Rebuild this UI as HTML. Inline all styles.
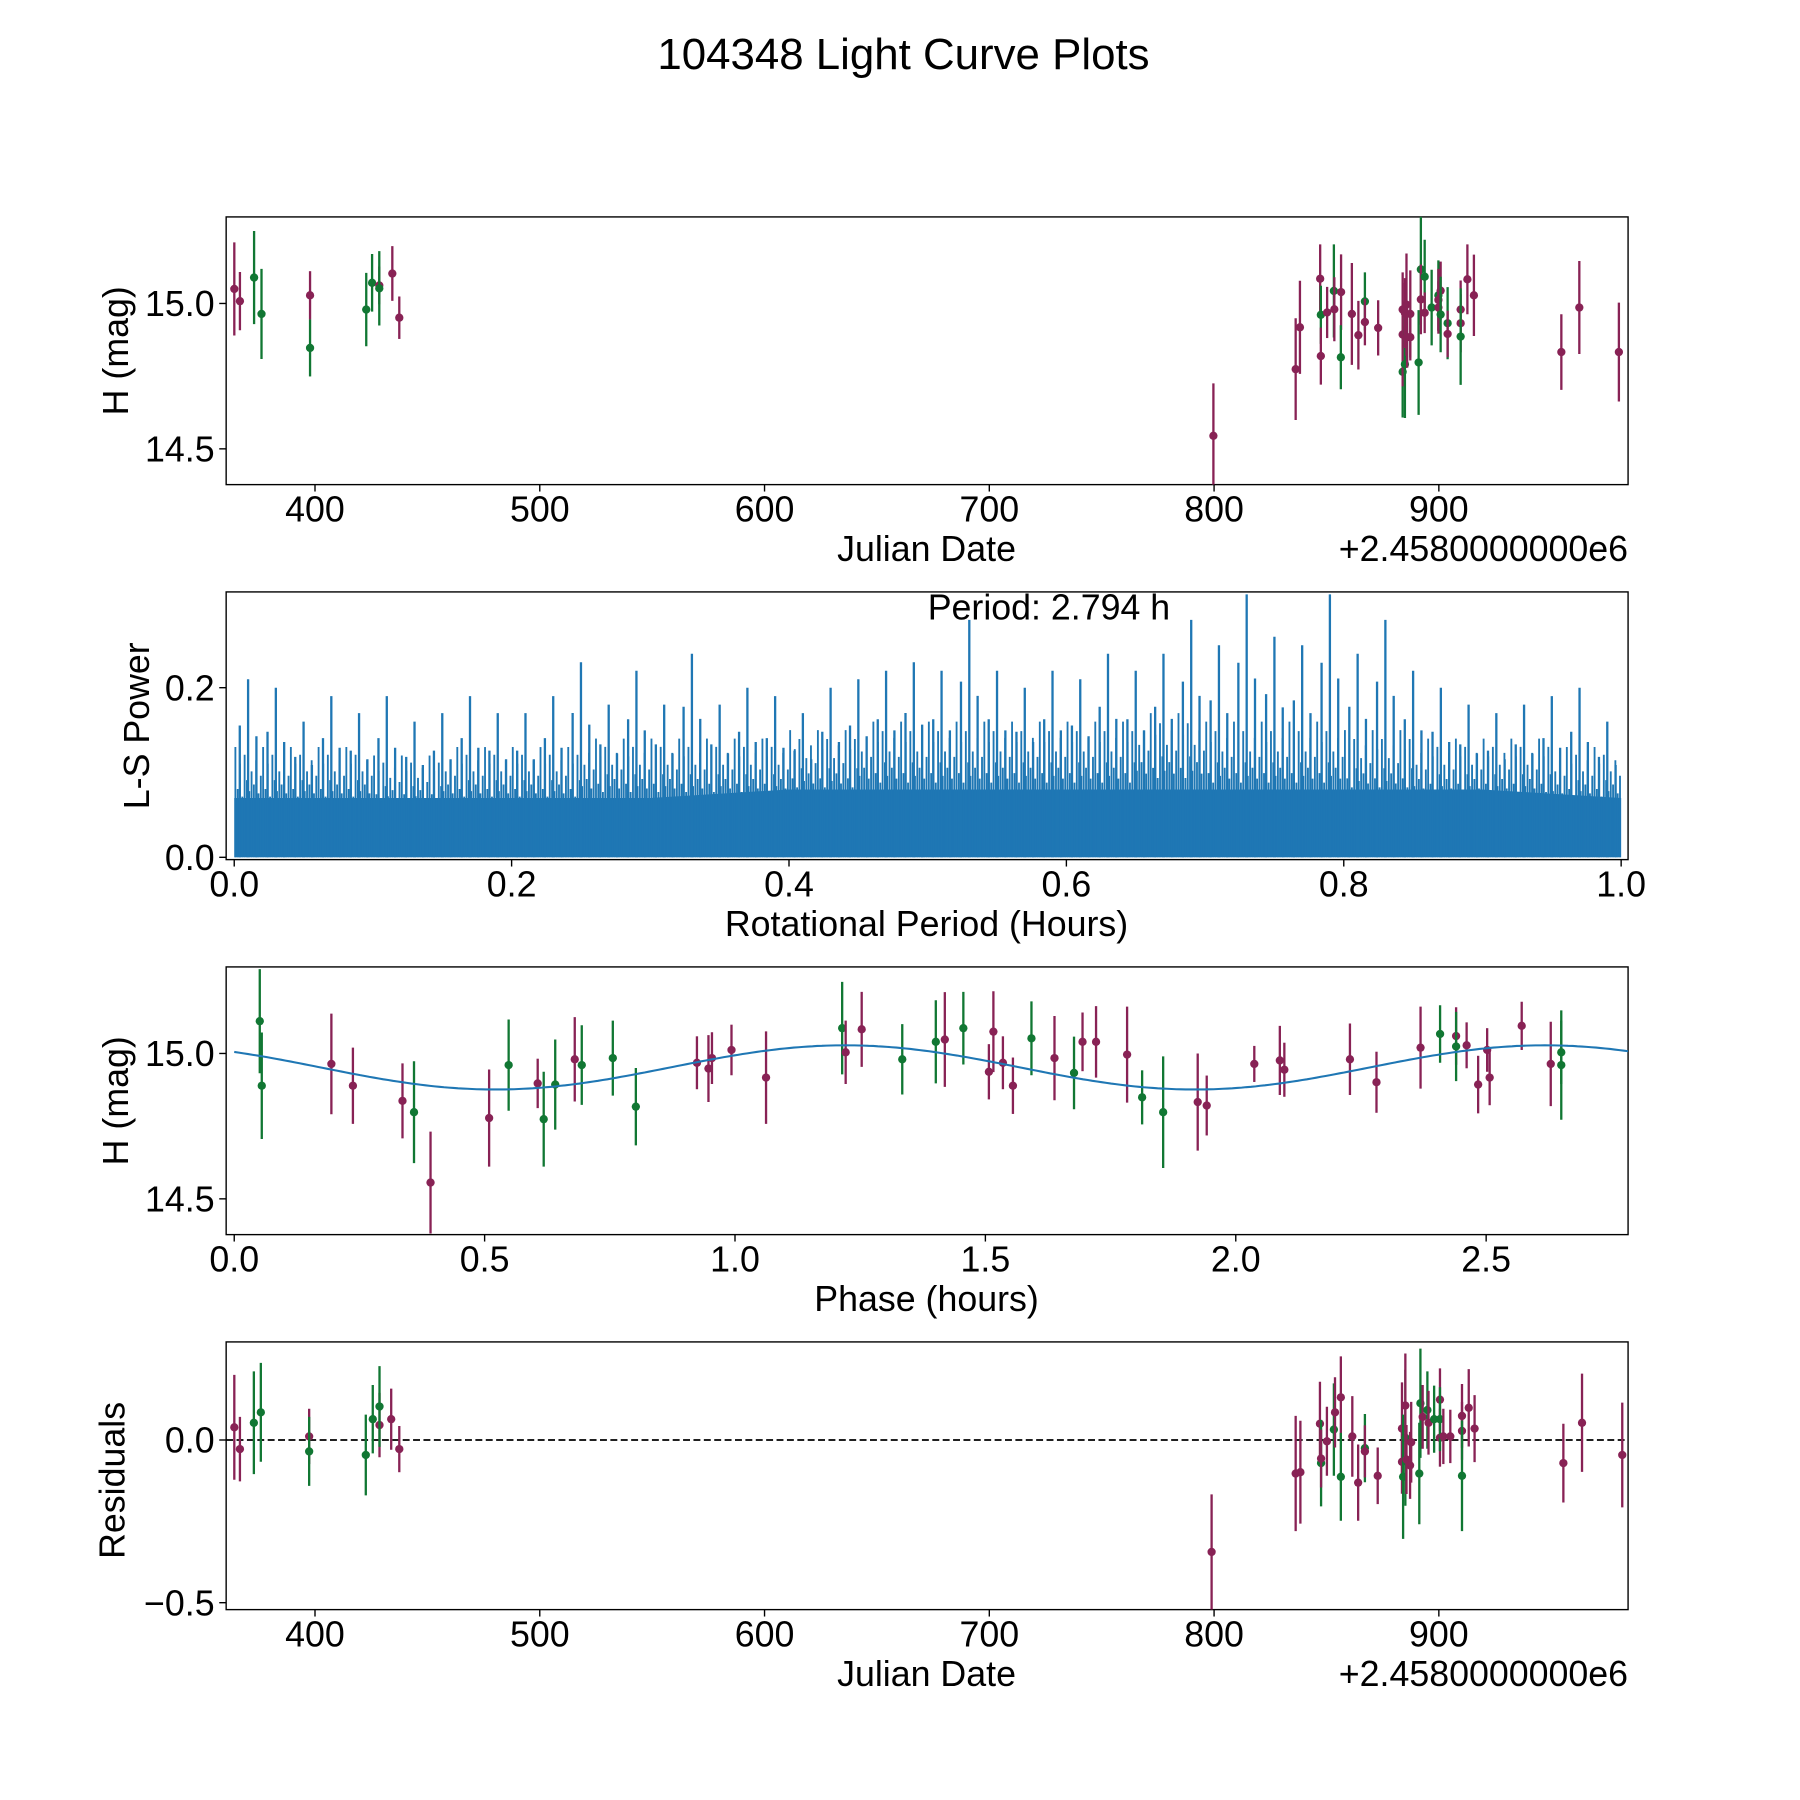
<!DOCTYPE html>
<html><head><meta charset="utf-8"><style>
html,body{margin:0;padding:0;background:#fff;}
svg{display:block;font-family:"Liberation Sans",sans-serif;}
</style></head><body>
<svg id="fig" width="1800" height="1800" viewBox="0 0 1560 1560" xmlns="http://www.w3.org/2000/svg">
<rect width="1560" height="1560" fill="#fff"/>
<text x="783" y="60" font-size="38" text-anchor="middle">104348 Light Curve Plots</text>
<g id="root"></g>
</svg>
<script>
// ---- Panel 1: light curve vs Julian Date ----
const lcJD = [364.1,366.6,372.9,376.2,397.8,397.8,422.8,425.4,428.6,428.6,434.4,437.5,
799.7,836.3,838.2,847.2,847.5,847.5,850.3,853.3,853.5,856.5,856.4,861.3,864.2,867.1,867.1,873.0,883.9,883.9,883.9,884.9,884.9,885.6,885.9,887.3,887.3,891.0,892.0,892.0,893.7,893.7,896.8,899.8,899.8,899.8,900.8,900.8,903.9,903.9,909.7,909.7,909.7,912.7,915.6,954.5,962.5,980.1];
const lcMag = [15.050,15.008,15.089,14.964,15.028,14.847,14.979,15.071,15.062,15.052,15.103,14.951,
14.545,14.774,14.918,15.085,14.961,14.819,14.969,15.043,14.980,15.039,14.815,14.964,14.891,15.007,14.936,14.916,14.765,14.979,14.893,14.791,14.967,14.996,14.884,14.964,14.884,14.797,15.117,15.014,15.092,14.968,14.986,15.028,14.986,15.012,15.044,14.962,14.932,14.895,14.979,14.932,14.886,15.083,15.028,14.833,14.986,14.833];
const lcErr = [0.16,0.10,0.16,0.155,0.083,0.098,0.126,0.099,0.065,0.128,0.094,0.073,
0.18,0.175,0.16,0.118,0.1,0.098,0.088,0.16,0.11,0.13,0.11,0.175,0.118,0.1,0.08,0.095,0.157,0.128,0.178,0.185,0.12,0.176,0.105,0.15,0.08,0.18,0.19,0.12,0.127,0.07,0.13,0.12,0.09,0.107,0.1,0.13,0.124,0.08,0.1,0.1,0.166,0.12,0.14,0.13,0.16,0.17];
const lcBand = "PPGGPGGGPGPPPPPPGPPGPPGPPGPPGPPGPPPPPGGPGPGGPPPGGPPPGPPPPP";
// ---- Panel 2: periodogram ----
const pgPeaks = [0.21,0.20,0.16,0.19,0.17,0.19,0.16,0.17,0.19,0.17,0.17,0.19,0.23,0.18,0.22,0.18,0.24,0.18,0.20,0.19,0.17,0.20,0.21,0.22,0.23,0.22,0.28,0.22,0.20,0.22,0.21,0.24,0.22,0.24,0.28,0.25,0.31,0.26,0.25,0.31,0.24,0.28,0.22,0.20,0.18,0.17,0.18,0.19,0.20,0.16];
const pgTypical = [0.13,0.13,0.12,0.13,0.13,0.14,0.14,0.14,0.15,0.16,0.16,0.16,0.16,0.17,0.16,0.16,0.15,0.14,0.14,0.13];
const pgBase = [0.07,0.07,0.07,0.07,0.08,0.08,0.08,0.08,0.08,0.08,0.07];
const pgTicks = ["0.0","0.2","0.4","0.6","0.8","1.0"];
// ---- Panel 3: phase-folded ----
const phPhase = [0.051,0.055,0.194,0.237,0.336,0.359,0.392,0.509,0.548,0.606,0.618,0.641,0.680,0.694,0.756,0.802,0.924,0.947,0.954,0.993,1.062,1.214,1.221,1.253,1.334,1.401,1.419,1.456,1.507,1.516,1.535,1.555,1.592,1.638,1.677,1.694,1.721,1.783,1.813,1.855,1.924,1.942,2.037,2.088,2.097,2.228,2.281,2.369,2.408,2.440,2.440,2.461,2.484,2.502,2.507,2.571,2.629,2.650,2.650];
const phMag = [15.111,14.889,14.964,14.889,14.837,14.798,14.556,14.778,14.960,14.897,14.774,14.893,14.980,14.960,14.984,14.817,14.968,14.948,14.984,15.012,14.917,15.087,15.004,15.083,14.980,15.040,15.048,15.087,14.937,15.075,14.968,14.889,15.052,14.984,14.933,15.040,15.040,14.996,14.849,14.798,14.833,14.821,14.964,14.976,14.944,14.980,14.901,15.020,15.067,15.060,15.024,15.028,14.893,15.012,14.917,15.095,14.964,15.004,14.960];
const phErr = [0.179,0.183,0.173,0.131,0.129,0.175,0.175,0.167,0.157,0.085,0.163,0.155,0.145,0.137,0.129,0.133,0.091,0.115,0.089,0.087,0.159,0.159,0.109,0.129,0.121,0.143,0.163,0.125,0.095,0.139,0.091,0.097,0.127,0.145,0.125,0.101,0.123,0.165,0.093,0.192,0.167,0.103,0.062,0.119,0.093,0.123,0.105,0.141,0.099,0.099,0.119,0.079,0.099,0.075,0.095,0.083,0.145,0.109,0.188];
const phBand = "GGPPPGPPGPGGPGGGPPPPPGPPGGPGPPPPGPGPPPGGPPPPPPPPGPGPPPPPPGG";
const modelMean = 14.952, modelAmp = 0.076, modelPeriod = 1.397, modelPeak = 1.22;
// ---- Panel 4: residuals ----
const rsJD = [364.1,366.6,372.8,375.9,397.4,397.4,422.6,425.7,428.7,428.7,433.9,437.5,798.9,836.3,838.4,847.1,847.6,847.6,850.2,853.3,853.8,856.4,856.4,861.5,864.1,867.1,867.1,872.8,883.6,883.6,884.1,885.1,885.1,885.6,887.2,887.7,891.3,891.8,892.8,894.9,895.4,897.9,900.5,900.5,900.5,902.0,905.1,910.3,910.3,910.3,913.3,915.9,955.4,963.7,981.6];
const rsVal = [0.039,-0.028,0.053,0.085,0.011,-0.035,-0.046,0.064,0.046,0.103,0.064,-0.028,-0.344,-0.103,-0.099,0.050,-0.071,-0.057,-0.004,0.032,0.085,0.131,-0.113,0.011,-0.131,-0.025,-0.035,-0.110,0.035,-0.067,-0.113,0.007,0.106,-0.060,-0.078,-0.007,-0.103,0.113,0.071,0.092,0.053,0.064,0.124,0.007,0.064,0.011,0.011,0.074,0.028,-0.110,0.099,0.035,-0.071,0.053,-0.046];
const rsErr = [0.161,0.099,0.158,0.152,0.085,0.106,0.124,0.105,0.099,0.124,0.094,0.071,0.177,0.177,0.158,0.129,0.133,0.089,0.106,0.142,0.108,0.126,0.135,0.124,0.117,0.105,0.080,0.087,0.142,0.098,0.191,0.209,0.16,0.106,0.103,0.124,0.156,0.168,0.098,0.119,0.098,0.103,0.096,0.089,0.098,0.085,0.082,0.098,0.089,0.170,0.119,0.103,0.121,0.151,0.161];
const rsBand = "PPGGPGGGPGPPPPPPGPPGPPGPPGPPPPGGPPPPGGPGPGPPGPPPPGPPPPP";
const jdTicks = [400,500,600,700,800,900];

const NS="http://www.w3.org/2000/svg";
const root=document.getElementById('root');
const COL={P:"#882255",G:"#117733"};
const FS=31;
function mk(tag,attrs,parent){const e=document.createElementNS(NS,tag);for(const k in attrs)e.setAttribute(k,attrs[k]);(parent||root).appendChild(e);return e;}
function txt(s,x,y,size,anchor,parent,rot){const t=mk('text',{x:x,y:y,'font-size':size,'text-anchor':anchor||'middle'},parent);if(rot)t.setAttribute('transform','rotate(-90 '+x+' '+y+')');t.textContent=s;return t;}
function lin(d0,d1,p0,p1){return v=>p0+(v-d0)*(p1-p0)/(d1-d0);}
const L=196,R=1411;
function frame(top,name){const g=mk('g',{});mk('rect',{x:L,y:top,width:R-L,height:232,fill:'none',stroke:'#000','stroke-width':1.2},g);return g;}
function xtick(g,px,bottom,label){mk('line',{x1:px,x2:px,y1:bottom,y2:bottom+6,stroke:'#000','stroke-width':1.2},g);const t=txt(label,px,bottom+32,FS,'middle',g);}
function ytick(g,py,label){mk('line',{x1:L-6,x2:L,y1:py,y2:py,stroke:'#000','stroke-width':1.2},g);const t=txt(label,L-10,py+11,FS,'end',g);}
function errpt(g,cx,cy,top,bot,color){mk('line',{x1:cx,x2:cx,y1:top,y2:bot,stroke:color,'stroke-width':2},g);mk('circle',{cx:cx,cy:cy,r:3.6,fill:color},g);}

// Panel 1
{const top=188,bot=420;const g=frame(top,'light-curve-panel');
const X=lin(400,900,273,1247),Y=lin(15.0,14.5,263,389);
const cp=mk('clipPath',{id:'c1'},g);mk('rect',{x:L,y:top,width:R-L,height:232},cp);
const pts=mk('g',{'clip-path':'url(#c1)'},g);
for(let i=0;i<lcJD.length;i++){const c=COL[lcBand[i]];
 const gg=mk('g',{},pts);
 errpt(gg,X(lcJD[i]),Y(lcMag[i]),Y(lcMag[i]+lcErr[i]),Y(lcMag[i]-lcErr[i]),c);}
jdTicks.forEach(v=>xtick(g,X(v),bot,String(v)));
ytick(g,Y(14.5),"14.5");ytick(g,Y(15.0),"15.0");
let t=txt("Julian Date",803,486,FS,'middle',g);
t=txt("+2.4580000000e6",R,486,FS,'end',g);
t=txt("H (mag)",111,304,FS,'middle',g,true);}

// Panel 2
{const top=513,bot=745;const g=frame(top,'periodogram-panel');
const X=lin(0,1,203,1405),Y=lin(0,0.2,743,596);
const cp=mk('clipPath',{id:'c2'},g);mk('rect',{x:L,y:top,width:R-L,height:232},cp);
const pg=mk('g',{'clip-path':'url(#c2)'},g);
let d='M'+X(0)+' '+Y(0);pgBase.forEach((v,i)=>{d+=' L'+X(i/(pgBase.length-1))+' '+Y(v);});d+=' L'+X(1)+' '+Y(0)+' Z';
const poly=mk('path',{d:d,fill:'#1f77b4'},pg);
const mult=[1,0.62,0.85,0.55,0.93,0.7,0.6,0.78,0.66,0.88,0.58,0.74];
for(let k=0;k<600;k++){const f=(k+0.5)/600;const bi=Math.min(pgTypical.length-1,Math.floor(f*pgTypical.length));
 const h=pgTypical[bi]*mult[k%mult.length];
 const l=mk('line',{x1:X(f),x2:X(f),y1:Y(0),y2:Y(h),stroke:'#1f77b4','stroke-width':1.6},pg);
 }
pgPeaks.forEach((v,i)=>{[0.5,0.2,0.8].forEach((o,j)=>{const f=(i+o)/pgPeaks.length;const h=v*(j===0?1:0.8-0.06*j);
 const l=mk('line',{x1:X(f),x2:X(f),y1:Y(0),y2:Y(h),stroke:'#1f77b4','stroke-width':2},pg);
 });});
pgTicks.forEach((s,i)=>xtick(g,X(i*0.2),bot,s));
ytick(g,Y(0),"0.0");ytick(g,Y(0.2),"0.2");
let t=txt("Period: 2.794 h",804,537,FS,'start',g);
t=txt("Rotational Period (Hours)",803,811,FS,'middle',g);
t=txt("L-S Power",129,629,FS,'middle',g,true);}

// Panel 3
{const top=838,bot=1070;const g=frame(top,'phase-panel');
const X=lin(0,2.5,203,1288),Y=lin(15.0,14.5,913,1039);
const cp=mk('clipPath',{id:'c3'},g);mk('rect',{x:L,y:top,width:R-L,height:232},cp);
const pts=mk('g',{'clip-path':'url(#c3)'},g);
for(let i=0;i<phPhase.length;i++){const c=COL[phBand[i]];const gg=mk('g',{},pts);
 
 errpt(gg,X(phPhase[i]),Y(phMag[i]),Y(phMag[i]+phErr[i]),Y(phMag[i]-phErr[i]),c);}
let d='';for(let k=0;k<=300;k++){const p=2.794*k/300;const m=modelMean+modelAmp*Math.cos(2*Math.PI*(p-modelPeak)/modelPeriod);d+=(k?' L':'M')+X(p).toFixed(1)+' '+Y(m).toFixed(1);}
const mp=mk('path',{d:d,fill:'none',stroke:'#1f77b4','stroke-width':1.8},pts);
["0.0","0.5","1.0","1.5","2.0","2.5"].forEach((s,i)=>xtick(g,X(i*0.5),bot,s));
ytick(g,Y(14.5),"14.5");ytick(g,Y(15.0),"15.0");
let t=txt("Phase (hours)",803,1136,FS,'middle',g);
t=txt("H (mag)",111,954,FS,'middle',g,true);}

// Panel 4
{const top=1163,bot=1395;const g=frame(top,'residuals-panel');
const X=lin(400,900,273,1247),Y=lin(0,-0.5,1248,1389);
const cp=mk('clipPath',{id:'c4'},g);mk('rect',{x:L,y:top,width:R-L,height:232},cp);
const pts=mk('g',{'clip-path':'url(#c4)'},g);
const zl=mk('line',{x1:L,x2:R,y1:Y(0),y2:Y(0),stroke:'#000','stroke-width':1.5,'stroke-dasharray':'6,3'},pts);

for(let i=0;i<rsJD.length;i++){const c=COL[rsBand[i]];const gg=mk('g',{},pts);
 
 errpt(gg,X(rsJD[i]),Y(rsVal[i]),Y(rsVal[i]+rsErr[i]),Y(rsVal[i]-rsErr[i]),c);}
jdTicks.forEach(v=>xtick(g,X(v),bot,String(v)));
ytick(g,Y(-0.5),"\u22120.5");ytick(g,Y(0),"0.0");
let t=txt("Julian Date",803,1461,FS,'middle',g);
t=txt("+2.4580000000e6",R,1461,FS,'end',g);
t=txt("Residuals",108,1283,FS,'middle',g,true);}
</script>
</body></html>
